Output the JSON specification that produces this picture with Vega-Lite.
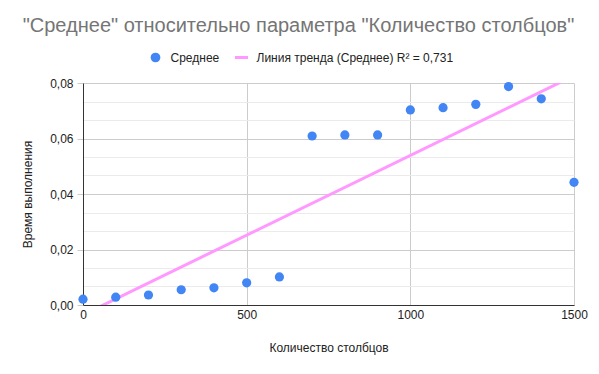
{
  "$schema": "https://vega.github.io/schema/vega-lite/v6.json",
  "width": 491,
  "height": 222,
  "autosize": "none",
  "padding": {"left": 83, "top": 83, "right": 25, "bottom": 69},
  "background": "white",
  "title": {
    "text": "\"Среднее\" относительно параметра \"Количество столбцов\"",
    "fontSize": 20,
    "font": "Liberation Sans",
    "fontWeight": "normal",
    "color": "#757575",
    "anchor": "middle",
    "frame": "group",
    "baseline": "middle",
    "dx": -30,
    "offset": 5
  },
  "config": {
    "view": {"stroke": null},
    "font": "Liberation Sans"
  },
  "data": {
    "values": [
      {"x": 0, "y": 0.0021},
      {"x": 100, "y": 0.0028},
      {"x": 200, "y": 0.0036},
      {"x": 300, "y": 0.0055},
      {"x": 400, "y": 0.0062},
      {"x": 500, "y": 0.0080},
      {"x": 600, "y": 0.0101},
      {"x": 700, "y": 0.0609},
      {"x": 800, "y": 0.0613},
      {"x": 900, "y": 0.0613},
      {"x": 1000, "y": 0.0703},
      {"x": 1100, "y": 0.0711},
      {"x": 1200, "y": 0.0723},
      {"x": 1300, "y": 0.0787},
      {"x": 1400, "y": 0.0743},
      {"x": 1500, "y": 0.0442}
    ]
  },
  "encoding": {
    "x": {
      "field": "x",
      "type": "quantitative",
      "scale": {"domain": [0, 1500], "nice": false, "zero": false},
      "axis": {
        "title": "Количество столбцов",
        "values": [0, 500, 1000, 1500],
        "format": "d",
        "labelFlush": false,
        "labelFontSize": 12,
        "labelColor": "#222222",
        "labelPadding": 4,
        "tickSize": 0,
        "domainColor": "#333333",
        "gridColor": "#cccccc",
        "titleFontSize": 12,
        "titleFontWeight": "normal",
        "titleColor": "#222222",
        "titleX": 245.5,
        "titleY": 42,
        "titleBaseline": "middle",
        "titleAlign": "center"
      }
    },
    "y": {
      "field": "y",
      "type": "quantitative",
      "scale": {"domain": [0, 0.08], "nice": false, "zero": false},
      "axis": {
        "title": "Время выполнения",
        "values": [0, 0.006667, 0.013333, 0.02, 0.026667, 0.033333, 0.04, 0.046667, 0.053333, 0.06, 0.066667, 0.073333, 0.08],
        "labelExpr": "abs(datum.value*50 - round(datum.value*50)) < 0.01 ? replace(format(datum.value, '.2f'), '.', ',') : ''",
        "gridColor": {"condition": {"test": "abs(datum.value*50 - round(datum.value*50)) < 0.01", "value": "#cccccc"}, "value": "#ebebeb"},
        "tickColor": {"condition": {"test": "abs(datum.value*50 - round(datum.value*50)) < 0.01", "value": "#cccccc"}, "value": "transparent"},
        "tickSize": 6,
        "labelFontSize": 12,
        "labelColor": "#222222",
        "labelPadding": 4,
        "domainColor": "#333333",
        "titleFontSize": 12,
        "titleFontWeight": "normal",
        "titleColor": "#222222",
        "titleX": -56,
        "titleY": 111,
        "titleAngle": -90,
        "titleBaseline": "middle",
        "titleAlign": "center"
      }
    }
  },
  "layer": [
    {
      "transform": [{"regression": "y", "on": "x", "extent": [0, 1500]}],
      "mark": {"type": "line", "strokeWidth": 3, "clip": true},
      "encoding": {
        "color": {
          "datum": "Линия тренда (Среднее) R² = 0,731",
          "scale": {
            "domain": ["Среднее", "Линия тренда (Среднее) R² = 0,731"],
            "range": ["#4285f4", "#ff99ff"]
          },
          "legend": {
            "orient": "none",
            "direction": "horizontal",
            "legendX": 65.5,
            "legendY": -32.5,
            "title": null,
            "padding": 0,
            "labelFontSize": 12,
            "labelColor": "#222222",
            "labelLimit": 400,
            "labelOffset": 8,
            "columnPadding": 15,
            "symbolSize": 170,
            "encode": {
              "symbols": {
                "update": {
                  "shape": {"signal": "datum.value == 'Среднее' ? 'circle' : 'M-1,-0.23H1V0.23H-1Z'"},
                  "size": {"signal": "datum.value == 'Среднее' ? 95 : 170"},
                  "fill": {"scale": "color", "field": "value"},
                  "stroke": {"value": "transparent"},
                  "strokeWidth": {"value": 0},
                  "opacity": {"value": 1}
                }
              }
            }
          }
        }
      }
    },
    {
      "mark": {"type": "point", "filled": true, "opacity": 1, "size": 85},
      "encoding": {
        "color": {
          "datum": "Среднее",
          "scale": {
            "domain": ["Среднее", "Линия тренда (Среднее) R² = 0,731"],
            "range": ["#4285f4", "#ff99ff"]
          },
          "legend": {
            "orient": "none",
            "direction": "horizontal",
            "legendX": 65.5,
            "legendY": -32.5,
            "title": null,
            "padding": 0,
            "labelFontSize": 12,
            "labelColor": "#222222",
            "labelLimit": 400,
            "labelOffset": 8,
            "columnPadding": 15,
            "symbolSize": 170,
            "encode": {
              "symbols": {
                "update": {
                  "shape": {"signal": "datum.value == 'Среднее' ? 'circle' : 'M-1,-0.23H1V0.23H-1Z'"},
                  "size": {"signal": "datum.value == 'Среднее' ? 95 : 170"},
                  "fill": {"scale": "color", "field": "value"},
                  "stroke": {"value": "transparent"},
                  "strokeWidth": {"value": 0},
                  "opacity": {"value": 1}
                }
              }
            }
          }
        }
      }
    }
  ]
}
